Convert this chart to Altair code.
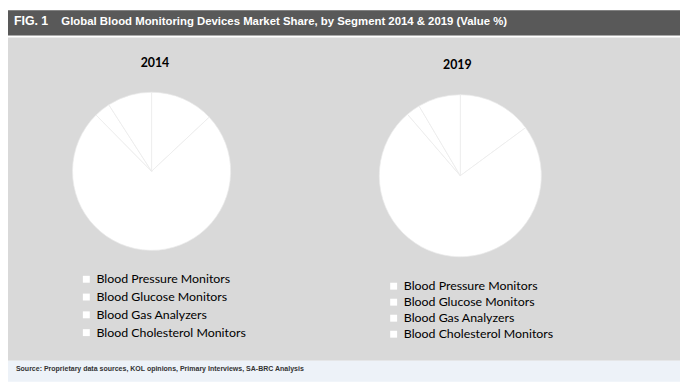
import altair as alt
import pandas as pd

segments = ["Blood Pressure Monitors", "Blood Glucose Monitors", "Blood Gas Analyzers", "Blood Cholesterol Monitors"]
share_2014 = [13.0, 74.6, 3.3, 9.1]
share_2019 = [14.9, 73.8, 2.8, 8.5]
years = ["2014", "2019"]
fig_label = "FIG. 1"
title_text = "Global Blood Monitoring Devices Market Share, by Segment 2014 & 2019 (Value %)"
source_text = "Source: Proprietary data sources, KOL opinions, Primary Interviews, SA-BRC Analysis"

W, H = 680, 376
one = pd.DataFrame({"k": [0]})

df14 = pd.DataFrame({"segment": segments, "share": share_2014, "idx": range(4)})
df19 = pd.DataFrame({"segment": segments, "share": share_2019, "idx": range(4)})


def box(x1, x2, y1, y2, color):
    return alt.Chart(one).mark_rect(color=color).encode(
        x=alt.value(x1), x2=alt.value(x2), y=alt.value(y1), y2=alt.value(y2)
    )


def label(txt, x, y, size, color, font, weight="bold", align="left"):
    return alt.Chart(one).mark_text(
        text=txt, align=align, baseline="alphabetic", fontSize=size, color=color,
        font=font, fontWeight=weight
    ).encode(x=alt.value(x), y=alt.value(y))


header = box(0, W, 0, 25.7, "#595959")
panel = box(0, W, 27.5, 354.7, "#d9d9d9")
footer = box(0, W, 354.7, H, "#edf2f8")

sans = "Liberation Sans, Arial, sans-serif"
t_fig = label(fig_label, 6, 14.5, 12.5, "#ffffff", sans)
t_title = label(title_text, 54, 14.5, 11.5, "#ffffff", sans)
t_src = label(source_text, 8, 365, 7.1, "#333333", sans)
t_y14 = label(years[0], 148.7, 57.5, 12.5, "#000000", "Lato, sans-serif", align="center")
t_y19 = label(years[1], 454.7, 59, 12.5, "#000000", "Lato, sans-serif", align="center")


def pie(df, cx, cy, r, lx, ly, rowpad):
    return alt.Chart(df).mark_arc(radius=r, stroke="#ebebeb", strokeWidth=0.7).encode(
        theta=alt.Theta("share:Q", stack=True),
        order=alt.Order("idx:Q"),
        color=alt.Color(
            "segment:N",
            scale=alt.Scale(domain=segments, range=["#ffffff"] * 4),
            legend=alt.Legend(
                title=None, orient="none", legendX=lx, legendY=ly,
                symbolType="square", symbolSize=49, symbolStrokeWidth=0,
                labelFont="Lato, sans-serif", labelFontSize=12.5, labelColor="#000000",
                labelOffset=4, rowPadding=rowpad, labelLimit=300,
            ),
        ),
        x=alt.value(cx),
        y=alt.value(cy),
    )


pie14 = pie(df14, 145.3, 163, 80, 73, 266, 5.0)
pie19 = pie(df19, 457.7, 167.5, 82, 384, 273, 3.2)

chart = alt.layer(
    header, panel, footer, t_fig, t_title, t_src, t_y14, t_y19, pie14, pie19
).resolve_scale(color="independent", theta="independent").properties(
    width=W, height=H, padding=0, autosize=alt.AutoSizeParams(type="none"),
    background="#ffffff"
).configure_view(stroke=None)

chart.save("out.html", embed_options={"renderer": "svg", "actions": False})
